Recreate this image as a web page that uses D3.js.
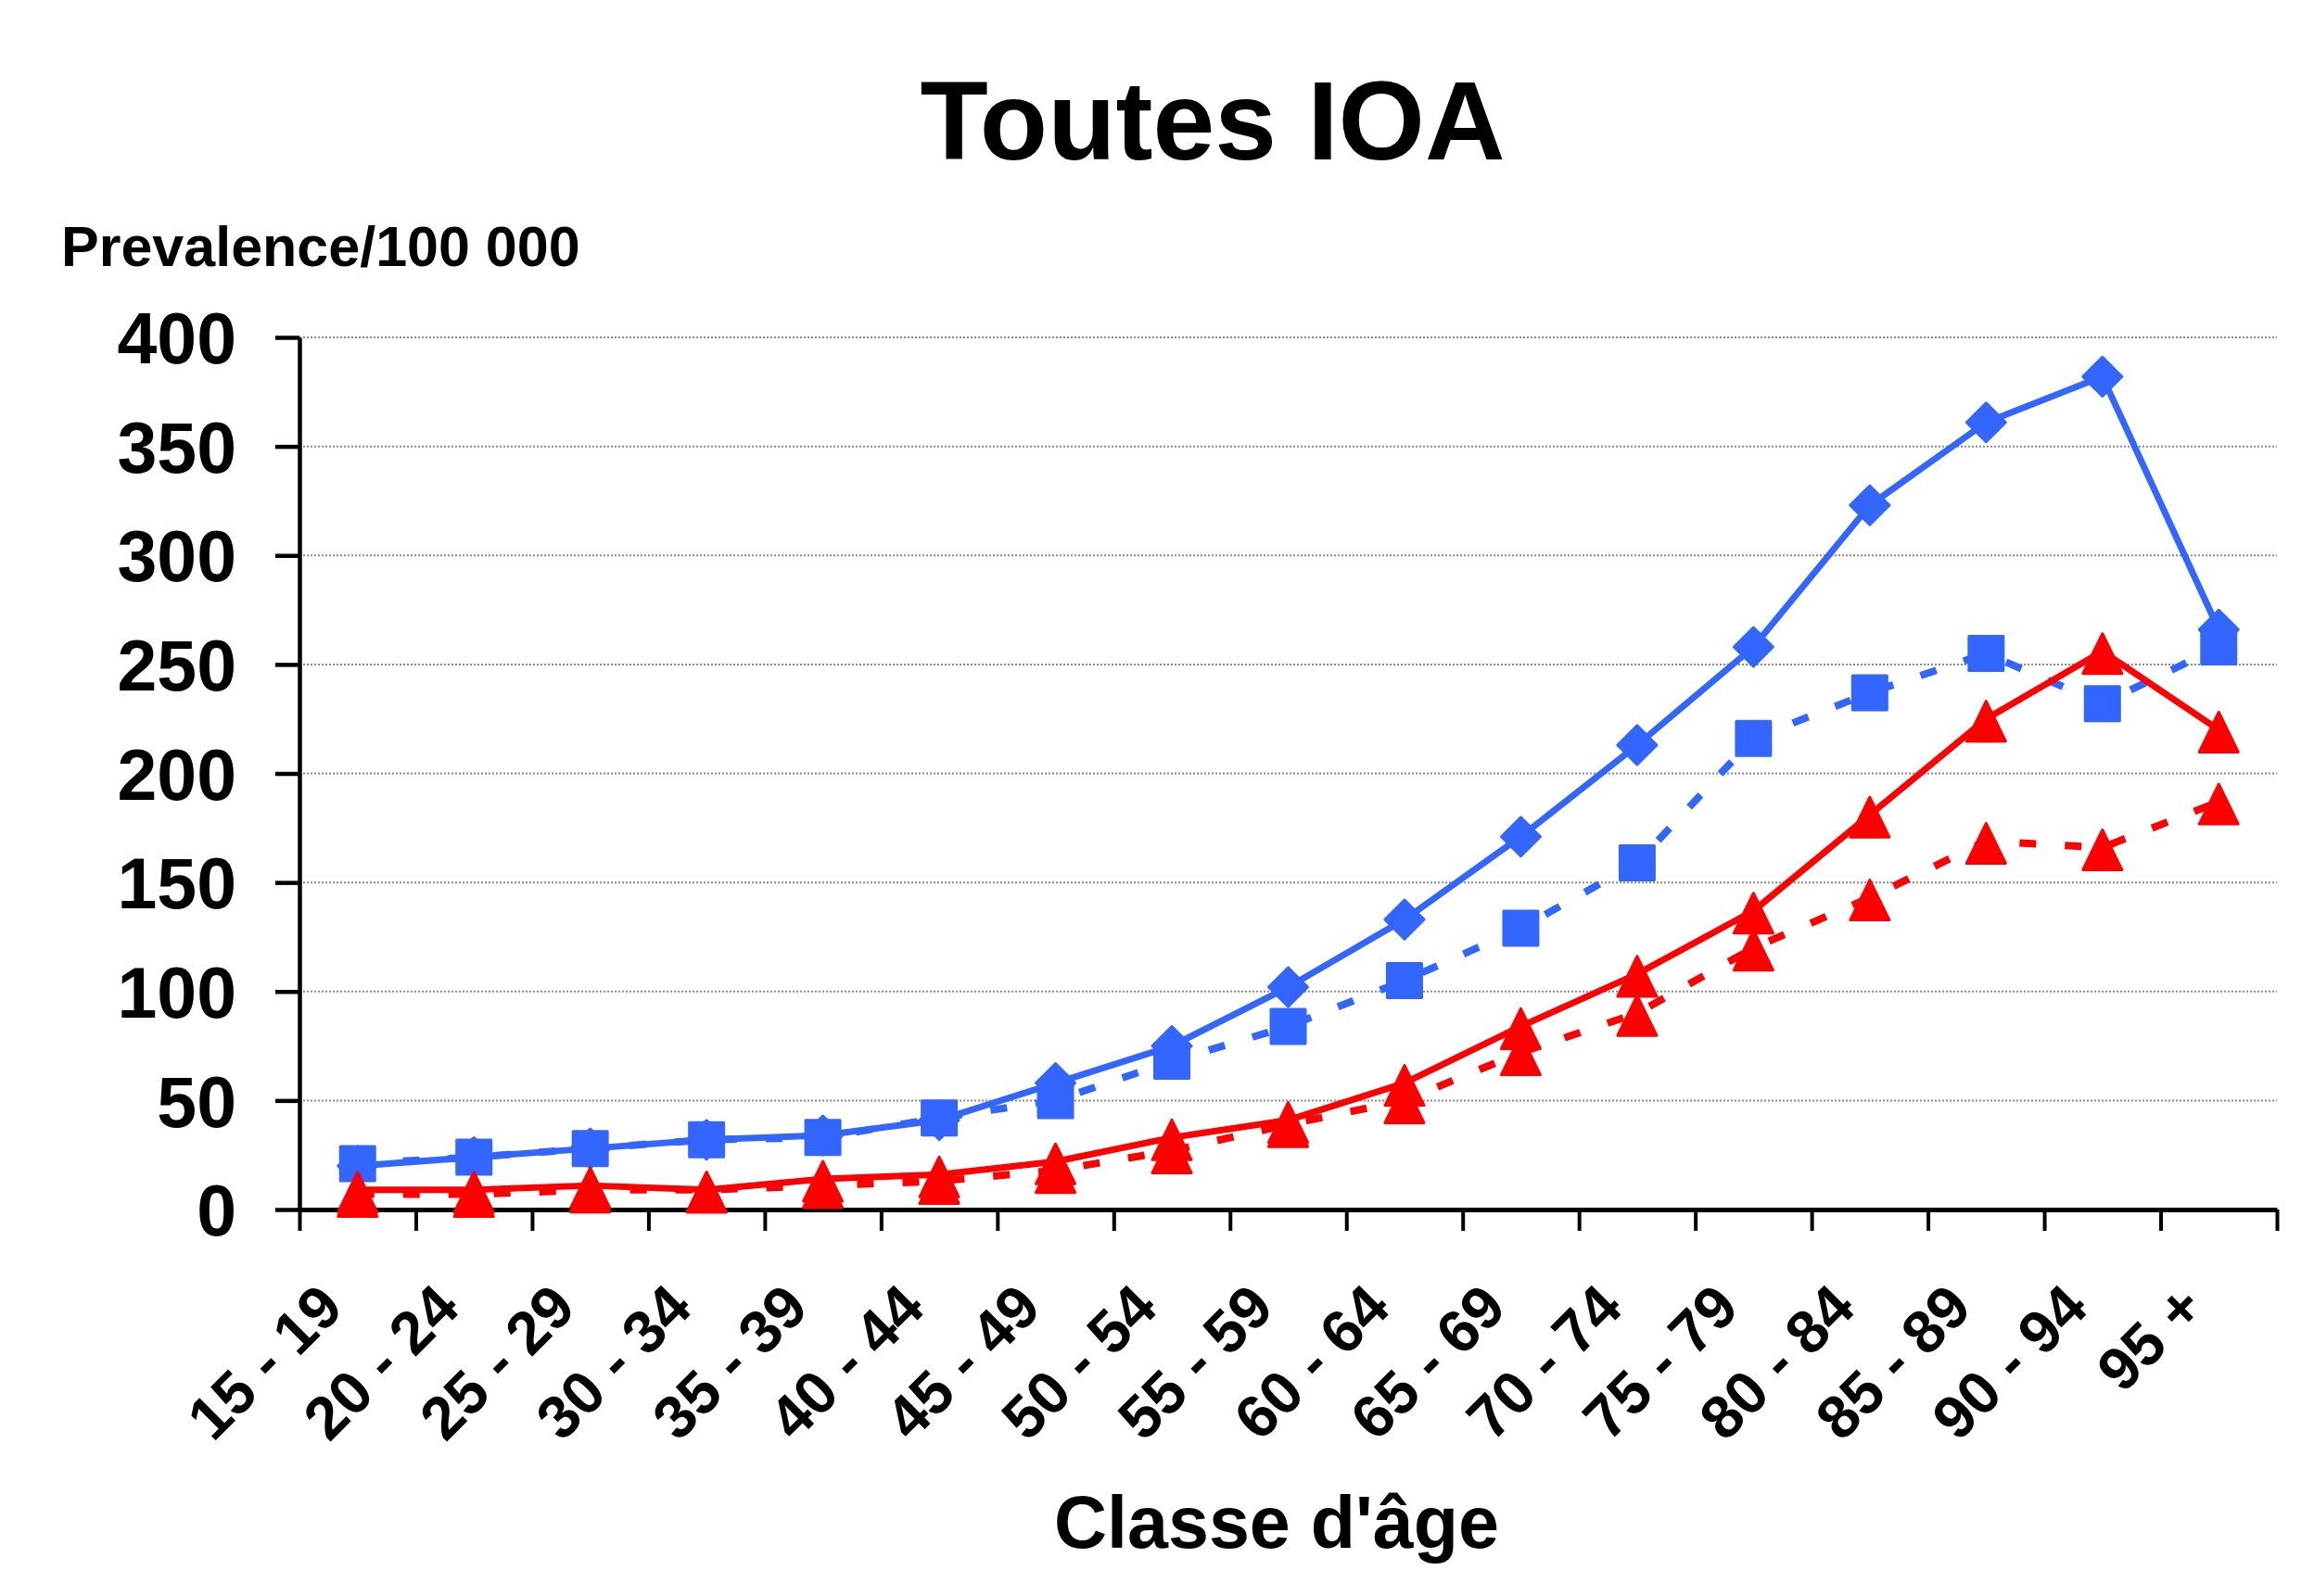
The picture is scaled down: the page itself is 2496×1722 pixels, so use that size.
<!DOCTYPE html>
<html lang="fr">
<head>
    <meta charset="UTF-8">
    <title>Toutes IOA</title>
    <script type="text/javascript" src="https://d3js.org/d3.v7.min.js"></script>
    <style>
        body { margin: 0; background: #fff; }
        text { font-family: "Liberation Sans", Arial, sans-serif; font-weight: bold; fill: #000; }
    </style>
</head>
<body>
    <svg id="chart" width="2496" height="1722"></svg>
    <script>
        // age classes on the x axis
        var ageClasses = ["15 - 19", "20 - 24", "25 - 29", "30 - 34", "35 - 39", "40 - 44", "45 - 49",
            "50 - 54", "55 - 59", "60 - 64", "65 - 69", "70 - 74", "75 - 79", "80 - 84",
            "85 - 89", "90 - 94", "95 +"];

        var yTicks = [0, 50, 100, 150, 200, 250, 300, 350, 400];

        // prevalence per 100 000
        var blueSolid = [20, 24, 28, 32, 34, 41, 58, 75, 102, 133, 171, 213, 258, 323, 361, 382, 266];
        var blueDashed = [21, 24, 28, 32, 33, 42, 50, 68, 84, 105, 129, 159, 216, 237, 255, 232, 258];
        var redSolid = [9, 9, 11, 9, 14, 16, 22, 33, 41, 58, 84, 108, 137, 181, 225, 256, 220];
        var redDashed = [7, 7, 9, 9, 11, 13, 18, 27, 39, 50, 72, 90, 120, 143, 169, 166, 187];

        var svg = d3.select("#chart"),
            width = +svg.attr("width"),
            height = +svg.attr("height");

        var plotLeft = 323, plotRight = 2456, plotTop = 364, plotBottom = 1305;

        var x = d3.scaleBand().domain(ageClasses).range([plotLeft, plotRight]);
        var xEdges = d3.scaleLinear().domain([0, ageClasses.length]).range([plotLeft, plotRight]);
        var y = d3.scaleLinear().domain([0, 400]).range([plotBottom, plotTop]);

        function px(d, i) { return x(ageClasses[i]) + x.bandwidth() / 2; }
        function py(d) { return y(d); }

        svg.append("rect").attr("width", width).attr("height", height).attr("fill", "#fff");

        // dotted gridlines
        svg.append("g").selectAll("line")
            .data(yTicks.filter(function (d) { return d > 0; }))
            .enter()
            .append("line")
            .attr("x1", plotLeft).attr("x2", plotRight)
            .attr("y1", function (d) { return y(d); })
            .attr("y2", function (d) { return y(d); })
            .attr("stroke", "#8a8a8a")
            .attr("stroke-width", 2)
            .attr("stroke-dasharray", "2,2");

        // y axis
        var gy = svg.append("g")
            .attr("transform", "translate(" + plotLeft + ",0)")
            .call(d3.axisLeft(y).tickValues(yTicks).tickSize(26).tickSizeOuter(0).tickPadding(42));
        gy.attr("font-family", null).attr("font-size", null);
        gy.select(".domain").attr("stroke", "#000").attr("stroke-width", 4.5);
        gy.selectAll(".tick line").attr("stroke", "#000").attr("stroke-width", 4.5);
        gy.selectAll(".tick text").style("font-size", "77px").attr("dy", "0.36em");

        // x axis: ticks sit between the classes
        var gxt = svg.append("g")
            .attr("transform", "translate(0," + plotBottom + ")")
            .call(d3.axisBottom(xEdges).tickValues(d3.range(ageClasses.length + 1))
                .tickSize(23).tickSizeOuter(0).tickFormat(""));
        gxt.select(".domain").attr("stroke", "#000").attr("stroke-width", 5);
        gxt.selectAll(".tick line").attr("stroke", "#000").attr("stroke-width", 4);

        var gx = svg.append("g")
            .attr("transform", "translate(0," + plotBottom + ")")
            .call(d3.axisBottom(x).tickSize(0));
        gx.attr("font-family", null).attr("font-size", null);
        gx.select(".domain").remove();
        gx.selectAll(".tick text")
            .attr("y", null).attr("dy", null)
            .attr("text-anchor", "end")
            .attr("transform", "translate(-13,109) rotate(-45)")
            .style("font-size", "65px");

        // series
        var series = [
            { values: blueSolid, color: "#3366ff", dash: null, marker: "diamond" },
            { values: blueDashed, color: "#3366ff", dash: "18,31", marker: "square" },
            { values: redSolid, color: "#ff0000", dash: null, marker: "triangle" },
            { values: redDashed, color: "#ff0000", dash: "18,31", marker: "triangle" }
        ];

        var markerPath = {
            diamond: "M0,-21L21,0L0,21L-21,0Z",
            square: "M-18.5,-18.5H18.5V18.5H-18.5Z",
            triangle: "M0,-19L21,24H-21Z"
        };

        var line = d3.line().x(px).y(py);

        series.forEach(function (s) {
            svg.append("path")
                .datum(s.values)
                .attr("d", line)
                .attr("fill", "none")
                .attr("stroke", s.color)
                .attr("stroke-width", s.dash ? 8 : 7)
                .attr("stroke-linejoin", "round")
                .attr("stroke-dasharray", s.dash);
        });

        series.forEach(function (s) {
            svg.append("g").selectAll("path")
                .data(s.values)
                .enter()
                .append("path")
                .attr("d", markerPath[s.marker])
                .attr("transform", function (d, i) { return "translate(" + px(d, i) + "," + py(d) + ")"; })
                .attr("fill", s.color)
                .attr("stroke", s.color)
                .attr("stroke-width", 3)
                .attr("stroke-linejoin", "round");
        });

        // titles
        svg.append("text")
            .attr("x", 1308).attr("y", 172)
            .attr("text-anchor", "middle")
            .style("font-size", "120px")
            .text("Toutes IOA");

        svg.append("text")
            .attr("x", 66).attr("y", 287)
            .style("font-size", "61px")
            .text("Prevalence/100 000");

        svg.append("text")
            .attr("x", 1377).attr("y", 1670)
            .attr("text-anchor", "middle")
            .style("font-size", "79px")
            .text("Classe d'âge");
    </script>
</body>
</html>
